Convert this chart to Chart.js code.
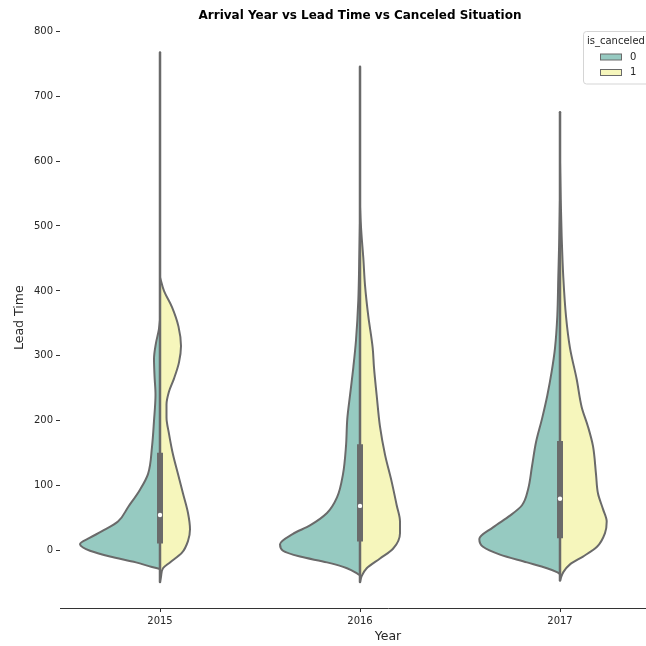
<!DOCTYPE html>
<html>
<head>
<meta charset="utf-8">
<script src="https://cdn.jsdelivr.net/npm/chart.js@4/dist/chart.umd.min.js"></script>
<style>
html,body{margin:0;padding:0;overflow:hidden;background:#fff;width:646px;height:646px}
#wrap{position:absolute;left:0;top:0;width:720px;height:646px}
</style>
</head>
<body>
<div id="wrap"><canvas id="c" width="720" height="646"></canvas></div>
<script>
// ---- data ----
const years = ['2015', '2016', '2017'];
const hueLabels = ['0', '1'];
const yTickValues = [0, 100, 200, 300, 400, 500, 600, 700, 800];

// lead time levels and kernel-density half widths (category units) for each split half
const lead2015_0 = [-28, -25, -18, -9, 0, 5, 10, 20, 30, 45, 67, 94, 118, 160, 200, 240, 270, 295, 320, 340, 355];
const dens2015_0 = [0, .04, .12, .25, .35, .385, .40, .35, .29, .21, .16, .10, .06, .04, .03, .0225, .0275, .03, .02, .006, 0];
const lead2015_1 = [-48, -40, -27, -18, -3, 15, 33, 58, 88, 118, 148, 180, 205, 225, 245, 265, 290, 315, 345, 375, 400, 421];
const dens2015_1 = [0, .005, .015, .05, .11, .14, .15, .14, .115, .09, .065, .045, .0325, .0325, .045, .07, .095, .105, .0925, .06, .02, 0];

const lead2016_0 = [-38, -36, -27, -18, -9, 0, 10, 26, 39, 58, 82, 118, 161, 203, 239, 282, 324, 385, 451, 506];
const dens2016_0 = [0, .01, .065, .165, .30, .385, .40, .335, .25, .165, .115, .085, .07, .0635, .05, .0335, .02, .0085, .0035, 0];
const lead2016_1 = [-48, -39, -27, -12, 3, 27, 45, 70, 106, 148, 191, 239, 282, 312, 361, 409, 451, 482, 506, 530];
const dens2016_1 = [0, .0085, .0335, .10, .165, .20, .20, .1835, .1585, .125, .10, .0835, .07, .0635, .0415, .025, .0165, .0085, .0035, 0];

const lead2017_0 = [-36, -33, -27, -18, -6, 6, 18, 36, 54, 70, 94, 130, 167, 203, 239, 276, 312, 361, 421, 482, 542];
const dens2017_0 = [0, .015, .065, .165, .30, .385, .4035, .335, .25, .19, .16, .14, .12, .09, .0635, .0415, .025, .0135, .0085, .0035, 0];
const lead2017_1 = [-46, -33, -21, -9, 6, 27, 45, 64, 88, 118, 161, 191, 221, 264, 312, 361, 421, 482, 542, 600];
const dens2017_1 = [0, .0165, .05, .115, .185, .225, .2335, .215, .19, .18, .165, .14, .1085, .0835, .05, .03, .0165, .0085, .0035, 0];

// full extent of each violin (thin tails)
const tailLow  = [-48, -48, -46];
const tailHigh = [767, 745, 675];

// inner box statistics
const q1         = [11, 14, 19];
const medians    = [55, 69, 80];
const q3         = [151, 164, 169];
const whiskerLow = [0, 0, 0];
const whiskerHigh= [361, 389, 394];

// ---- styling ----
const hueColors = ['#96cac1', '#f6f6bc'];
const gray = '#6a6a6a';
const textColor = '#262626';
Chart.defaults.font.family = "'DejaVu Sans', sans-serif";

const halves = [
  {year: 0, hue: 0, lead: lead2015_0, dens: dens2015_0},
  {year: 0, hue: 1, lead: lead2015_1, dens: dens2015_1},
  {year: 1, hue: 0, lead: lead2016_0, dens: dens2016_0},
  {year: 1, hue: 1, lead: lead2016_1, dens: dens2016_1},
  {year: 2, hue: 0, lead: lead2017_0, dens: dens2017_0},
  {year: 2, hue: 1, lead: lead2017_1, dens: dens2017_1}
];

const datasets = [];
years.forEach((yr, i) => {
  datasets.push({
    label: 'median ' + yr,
    data: [{x: i, y: medians[i]}],
    showLine: false, pointRadius: 2.2, pointBackgroundColor: '#ffffff',
    pointBorderColor: '#ffffff', pointBorderWidth: 0
  });
  datasets.push({
    label: 'box ' + yr,
    data: [{x: i, y: q1[i]}, {x: i, y: q3[i]}],
    borderColor: gray, borderWidth: 6, borderCapStyle: 'butt', pointRadius: 0, fill: false
  });
  datasets.push({
    label: 'whisker ' + yr,
    data: [{x: i, y: whiskerLow[i]}, {x: i, y: whiskerHigh[i]}],
    borderColor: gray, borderWidth: 1.5, pointRadius: 0, fill: false
  });
  datasets.push({
    label: 'center ' + yr,
    data: [{x: i, y: tailLow[i]}, {x: i, y: tailHigh[i]}],
    borderColor: gray, borderWidth: 2.5, borderCapStyle: 'round', pointRadius: 0, fill: false
  });
});
halves.forEach(h => {
  const sign = h.hue === 0 ? -1 : 1;
  datasets.push({
    label: years[h.year] + ' is_canceled=' + hueLabels[h.hue],
    data: h.lead.map((v, k) => ({x: h.year + sign * h.dens[k], y: v})),
    fill: {value: h.year},
    backgroundColor: hueColors[h.hue],
    borderColor: gray, borderWidth: 2, pointRadius: 0,
    cubicInterpolationMode: 'monotone'
  });
});

const legendPlugin = {
  id: 'hueLegend',
  afterDraw(chart) {
    const ctx = chart.ctx;
    ctx.save();
    const bx = 583.5, by = 31.5, bw = 72, bh = 52.5, r = 3;
    ctx.beginPath();
    ctx.moveTo(bx + r, by);
    ctx.lineTo(bx + bw - r, by); ctx.arcTo(bx + bw, by, bx + bw, by + r, r);
    ctx.lineTo(bx + bw, by + bh - r); ctx.arcTo(bx + bw, by + bh, bx + bw - r, by + bh, r);
    ctx.lineTo(bx + r, by + bh); ctx.arcTo(bx, by + bh, bx, by + bh - r, r);
    ctx.lineTo(bx, by + r); ctx.arcTo(bx, by, bx + r, by, r);
    ctx.closePath();
    ctx.fillStyle = 'rgba(255,255,255,0.8)';
    ctx.fill();
    ctx.strokeStyle = '#d5d5d5'; ctx.lineWidth = 1; ctx.stroke();
    ctx.font = "10px 'DejaVu Sans'";
    ctx.fillStyle = textColor;
    ctx.textBaseline = 'middle';
    ctx.textAlign = 'left';
    ctx.fillText('is_canceled', 587, 41.5);
    hueLabels.forEach((lab, k) => {
      const cy = 57 + 15.5 * k;
      ctx.fillStyle = hueColors[k];
      ctx.fillRect(600.5, cy - 3, 21, 6);
      ctx.strokeStyle = gray; ctx.lineWidth = 1;
      ctx.strokeRect(600.5, cy - 3, 21, 6);
      ctx.fillStyle = textColor;
      ctx.fillText(lab, 630, cy);
    });
    ctx.restore();
  }
};

new Chart(document.getElementById('c'), {
  type: 'line',
  data: {datasets},
  plugins: [legendPlugin],
  options: {
    indexAxis: 'y',
    responsive: false,
    animation: false,
    events: [],
    layout: {padding: 0},
    plugins: {
      legend: {display: false},
      tooltip: {enabled: false},
      title: {
        display: true,
        text: 'Arrival Year vs Lead Time vs Canceled Situation',
        color: '#000',
        font: {size: 12, weight: 'bold'},
        padding: {top: 9, bottom: 4}
      }
    },
    scales: {
      x: {
        type: 'linear', min: -0.5, max: 2.78,
        afterBuildTicks: s => { s.ticks = years.map((_, i) => ({value: i})); },
        afterFit: s => { s.height = 38; },
        ticks: {callback: v => years[v], font: {size: 10}, color: textColor, padding: 3, maxRotation: 0, autoSkip: false},
        grid: {drawOnChartArea: false, drawTicks: true, tickLength: 4, color: '#333'},
        border: {display: true, color: '#333', width: 1},
        title: {display: true, text: 'Year', font: {size: 12.5}, color: textColor, padding: {top: 0, bottom: 1.5}}
      },
      y: {
        type: 'linear', min: -88.2, max: 805.7,
        afterBuildTicks: s => { s.ticks = yTickValues.map(v => ({value: v})); },
        afterFit: s => { s.width = 60; },
        ticks: {font: {size: 10}, color: textColor, padding: 3},
        grid: {drawOnChartArea: false, drawTicks: true, tickLength: 4, color: '#333'},
        border: {display: false},
        title: {display: true, text: 'Lead Time', font: {size: 12.5}, color: textColor, padding: {top: 12, bottom: 0}}
      }
    }
  }
});
</script>
</body>
</html>
